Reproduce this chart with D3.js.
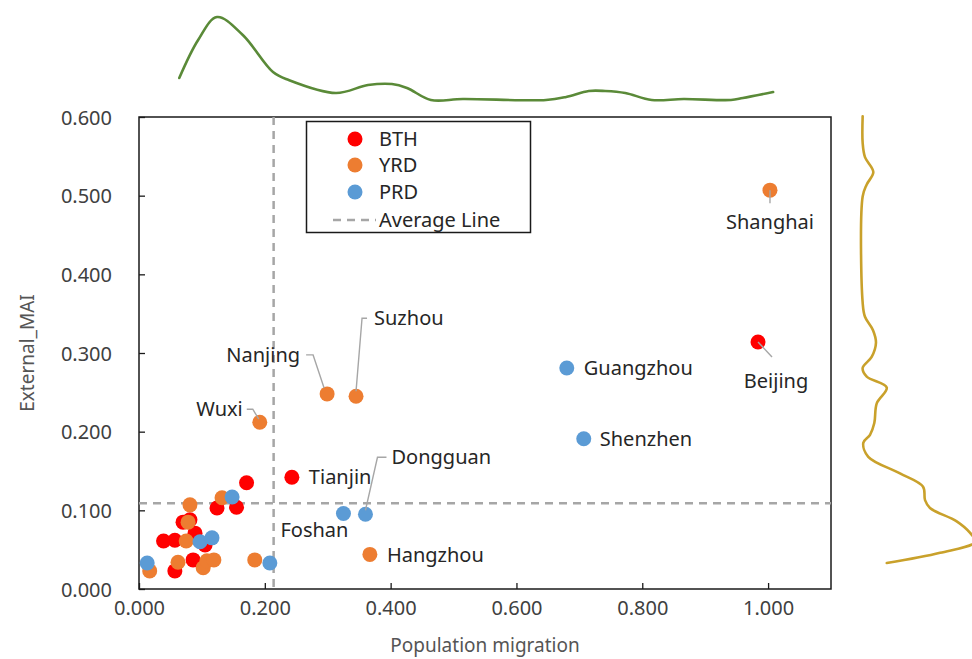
<!DOCTYPE html>
<html>
<head>
<meta charset="utf-8">
<script src="https://cdn.jsdelivr.net/npm/d3@7"></script>
<style>
  html, body { margin: 0; padding: 0; background: #ffffff; }
  svg { display: block; }
  text { font-family: "Noto Sans", "Open Sans", sans-serif; }
</style>
</head>
<body>
<svg id="chart" width="972" height="659"></svg>
<script>
// ---- Data -------------------------------------------------------------
// Beijing-Tianjin-Hebei
const bthNames = ["Beijing", "Tianjin", "", "", "", "", "", "", "", "", "", "", ""];
const bthX = [0.984, 0.243, 0.171, 0.124, 0.155, 0.070, 0.081, 0.089, 0.039, 0.057, 0.105, 0.057, 0.086];
const bthY = [0.314, 0.142, 0.135, 0.103, 0.104, 0.085, 0.088, 0.071, 0.061, 0.062, 0.056, 0.023, 0.037];

// Yangtze River Delta
const yrdNames = ["Shanghai", "Nanjing", "Suzhou", "Wuxi", "Hangzhou", "", "", "", "", "", "", "", "", "", ""];
const yrdX = [1.003, 0.299, 0.345, 0.192, 0.367, 0.081, 0.132, 0.078, 0.075, 0.017, 0.062, 0.102, 0.108, 0.119, 0.184];
const yrdY = [0.507, 0.248, 0.245, 0.212, 0.044, 0.107, 0.116, 0.085, 0.061, 0.023, 0.034, 0.027, 0.036, 0.037, 0.037];

// Pearl River Delta
const prdNames = ["Guangzhou", "Shenzhen", "Foshan", "Dongguan", "", "", "", "", ""];
const prdX = [0.680, 0.707, 0.325, 0.360, 0.148, 0.097, 0.116, 0.013, 0.208];
const prdY = [0.281, 0.191, 0.096, 0.095, 0.117, 0.060, 0.065, 0.033, 0.033];

const seriesNames = ["BTH", "YRD", "PRD"];
const averageX = 0.214;
const averageY = 0.109;

const xTicks = [0, 0.2, 0.4, 0.6, 0.8, 1.0];
const yTicks = [0, 0.1, 0.2, 0.3, 0.4, 0.5, 0.6];

// Marginal density of population migration (relative height)
const densX = [0.064, 0.094, 0.124, 0.165, 0.213, 0.238, 0.313, 0.364, 0.402, 0.426, 0.464, 0.515,
               0.647, 0.679, 0.715, 0.741, 0.773, 0.815, 0.866, 0.941, 0.960, 1.008];
const densXVal = [0.274, 0.726, 1.000, 0.786, 0.345, 0.250, 0.095, 0.190, 0.202, 0.155, 0.012, 0.024,
                  0.012, 0.048, 0.119, 0.119, 0.095, 0.012, 0.024, 0.012, 0.036, 0.107];

// Marginal density of External_MAI (relative width)
const densY = [0.601, 0.567, 0.549, 0.530, 0.514, 0.499, 0.364, 0.346, 0.329, 0.313, 0.295, 0.281,
               0.270, 0.256, 0.236, 0.211, 0.196, 0.186, 0.168, 0.147, 0.130, 0.113, 0.103, 0.086,
               0.071, 0.060, 0.046, 0.033];
const densYVal = [0.006, 0.006, 0.027, 0.103, 0.042, 0.006, 0.006, 0.027, 0.100, 0.127, 0.088, 0.006,
                  0.043, 0.225, 0.134, 0.112, 0.073, 0.012, 0.057, 0.345, 0.555, 0.573, 0.618, 0.861,
                  0.985, 1.030, 0.710, 0.225];

// ---- Layout -----------------------------------------------------------
const plot = { left: 139, right: 831, top: 117, bottom: 589 };
const colors = { BTH: "#ff0000", YRD: "#ed7d31", PRD: "#5b9bd5" };
const gridGray = "#a6a6a6";

// label placement (pixel offsets from the point centre)
const labelPlacement = {
  Shanghai:  { dx: 0,   dy: 32,  anchor: "middle", leader: [[0, 0], [0, 13]] },
  Beijing:   { dx: 18,  dy: 39,  anchor: "middle", leader: [[0, 0], [14, 15]] },
  Guangzhou: { dx: 17,  dy: 0,   anchor: "start" },
  Shenzhen:  { dx: 16,  dy: 0,   anchor: "start" },
  Nanjing:   { dx: -27, dy: -39, anchor: "end",   leader: [[-21, -39], [-14, -39], [-3, -6]] },
  Suzhou:    { dx: 18,  dy: -78, anchor: "start", leader: [[11, -78], [6, -78], [0, -5]] },
  Wuxi:      { dx: -17, dy: -13, anchor: "end",   leader: [[-13, -13], [-7, -13], [-1, -3]] },
  Tianjin:   { dx: 17,  dy: 0,   anchor: "start" },
  Dongguan:  { dx: 26,  dy: -57, anchor: "start", leader: [[21, -57], [12, -57], [0, -4]] },
  Foshan:    { dx: -63, dy: 16,  anchor: "start" },
  Hangzhou:  { dx: 17,  dy: 0,   anchor: "start" }
};

const svg = d3.select("#chart");

const x = d3.scaleLinear().domain([0, 1.1]).range([plot.left, plot.right]);
const y = d3.scaleLinear().domain([0, 0.6]).range([plot.bottom, plot.top]);

// ---- Frame & axes ------------------------------------------------------
svg.append("rect")
  .attr("x", plot.left).attr("y", plot.top)
  .attr("width", plot.right - plot.left).attr("height", plot.bottom - plot.top)
  .attr("fill", "#ffffff").attr("stroke", "#1a1a1a").attr("stroke-width", 1.5);

const fmt = d3.format(".3f");

const xAxis = svg.append("g")
  .attr("transform", `translate(0,${plot.bottom})`)
  .call(d3.axisBottom(x).tickValues(xTicks).tickFormat(fmt).tickSizeInner(-6).tickSizeOuter(0).tickPadding(12));
const yAxis = svg.append("g")
  .attr("transform", `translate(${plot.left},0)`)
  .call(d3.axisLeft(y).tickValues(yTicks).tickFormat(fmt).tickSizeInner(-6).tickSizeOuter(0).tickPadding(27));

[xAxis, yAxis].forEach(g => {
  g.select(".domain").remove();
  g.selectAll(".tick line").attr("stroke", "#1a1a1a").attr("stroke-width", 1.3);
  g.selectAll(".tick text")
    .attr("fill", "#404040")
    .style("font-family", "'Noto Sans', sans-serif")
    .style("font-size", "20px");
});
yAxis.selectAll(".tick text").attr("dy", "0.35em");

svg.append("text")
  .attr("x", (plot.left + plot.right) / 2)
  .attr("y", 652)
  .attr("text-anchor", "middle")
  .attr("fill", "#555555")
  .style("font-size", "19px")
  .text("Population migration");

svg.append("text")
  .attr("transform", `translate(34,${(plot.top + plot.bottom) / 2}) rotate(-90)`)
  .attr("text-anchor", "middle")
  .attr("fill", "#555555")
  .style("font-size", "19px")
  .text("External_MAI");

// ---- Average lines ------------------------------------------------------
svg.append("line")
  .attr("x1", plot.left).attr("x2", plot.right)
  .attr("y1", y(averageY)).attr("y2", y(averageY))
  .attr("stroke", gridGray).attr("stroke-width", 2.5).attr("stroke-dasharray", "8,6");
svg.append("line")
  .attr("x1", x(averageX)).attr("x2", x(averageX))
  .attr("y1", plot.top).attr("y2", plot.bottom)
  .attr("stroke", gridGray).attr("stroke-width", 2.5).attr("stroke-dasharray", "8,6");

// ---- Points ------------------------------------------------------------
const series = [
  { key: "BTH", xs: bthX, ys: bthY, names: bthNames },
  { key: "YRD", xs: yrdX, ys: yrdY, names: yrdNames },
  { key: "PRD", xs: prdX, ys: prdY, names: prdNames }
];

const points = [];
series.forEach(s => {
  s.xs.forEach((v, i) => points.push({ series: s.key, x: v, y: s.ys[i], name: s.names[i] }));
});

series.forEach(s => {
  svg.append("g").selectAll("circle")
    .data(points.filter(p => p.series === s.key))
    .join("circle")
    .attr("cx", d => x(d.x))
    .attr("cy", d => y(d.y))
    .attr("r", 7.5)
    .attr("fill", colors[s.key]);
});

// ---- City labels & leader lines ---------------------------------------
const labelled = points.filter(p => p.name && labelPlacement[p.name]);

svg.append("g").selectAll("path")
  .data(labelled.filter(p => labelPlacement[p.name].leader))
  .join("path")
  .attr("d", d => {
    const cx = x(d.x), cy = y(d.y);
    return d3.line()(labelPlacement[d.name].leader.map(([dx, dy]) => [cx + dx, cy + dy]));
  })
  .attr("fill", "none")
  .attr("stroke", gridGray)
  .attr("stroke-width", 1.4);

svg.append("g").selectAll("text")
  .data(labelled)
  .join("text")
  .attr("x", d => x(d.x) + labelPlacement[d.name].dx)
  .attr("y", d => y(d.y) + labelPlacement[d.name].dy)
  .attr("dy", "0.36em")
  .attr("text-anchor", d => labelPlacement[d.name].anchor)
  .attr("fill", "#262626")
  .style("font-size", "20px")
  .text(d => d.name);

// ---- Legend ------------------------------------------------------------
const legend = svg.append("g");
legend.append("rect")
  .attr("x", 306.5).attr("y", 121.5).attr("width", 224).attr("height", 111)
  .attr("fill", "#ffffff").attr("stroke", "#1a1a1a").attr("stroke-width", 1.5);

const legendRows = [139, 165, 192];
seriesNames.forEach((name, i) => {
  legend.append("circle")
    .attr("cx", 355).attr("cy", legendRows[i]).attr("r", 7.5)
    .attr("fill", colors[name]);
  legend.append("text")
    .attr("x", 379).attr("y", legendRows[i]).attr("dy", "0.36em")
    .attr("fill", "#262626").style("font-size", "20px")
    .text(name);
});
legend.append("line")
  .attr("x1", 333).attr("x2", 376).attr("y1", 220).attr("y2", 220)
  .attr("stroke", gridGray).attr("stroke-width", 2.5).attr("stroke-dasharray", "8,6");
legend.append("text")
  .attr("x", 379).attr("y", 220).attr("dy", "0.36em")
  .attr("fill", "#262626").style("font-size", "20px")
  .text("Average Line");

// ---- Marginal densities -------------------------------------------------
const topDens = d3.scaleLinear().domain([0, 1]).range([101, 17]);
svg.append("path")
  .datum(densX.map((v, i) => [v, densXVal[i]]))
  .attr("d", d3.line().x(d => x(d[0])).y(d => topDens(d[1])).curve(d3.curveCatmullRom.alpha(0.5)))
  .attr("fill", "none")
  .attr("stroke", "#5a8a38")
  .attr("stroke-width", 2.6)
  .attr("stroke-linecap", "round");

const rightDens = d3.scaleLinear().domain([0, 1]).range([862, 972]);
svg.append("path")
  .datum(densY.map((v, i) => [v, densYVal[i]]))
  .attr("d", d3.line().x(d => rightDens(d[1])).y(d => y(d[0])).curve(d3.curveCatmullRom.alpha(0.5)))
  .attr("fill", "none")
  .attr("stroke", "#c9a12b")
  .attr("stroke-width", 2.6)
  .attr("stroke-linecap", "round");
</script>
</body>
</html>
